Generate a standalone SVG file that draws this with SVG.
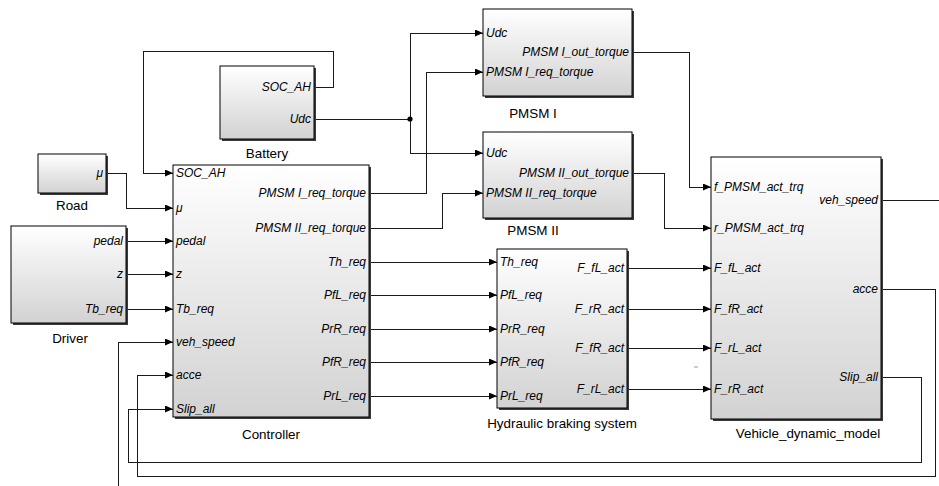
<svg xmlns="http://www.w3.org/2000/svg" width="939" height="486" viewBox="0 0 939 486">
<defs>
<linearGradient id="g" x1="0" y1="0" x2="0" y2="1">
<stop offset="0" stop-color="#ffffff"/>
<stop offset="1" stop-color="#d2d2d2"/>
</linearGradient>
<marker id="a" markerUnits="userSpaceOnUse" markerWidth="9" markerHeight="8" refX="8" refY="3.5" orient="auto">
<path d="M0,0 L8,3.5 L0,7 z" fill="#000"/>
</marker>
<style>
.sh{fill:#3a3a3a}
.bx{fill:url(#g);stroke:#000;stroke-width:1}
.pi{font-family:"Liberation Sans",Arial,sans-serif;font-style:italic;font-size:12px;fill:#000}
.po{font-family:"Liberation Sans",Arial,sans-serif;font-style:italic;font-size:12px;fill:#000;text-anchor:end}
.lb{font-family:"Liberation Sans",Arial,sans-serif;font-size:13.4px;fill:#000;text-anchor:middle}
.c{fill:none;stroke:#1a1a1a;stroke-width:1;shape-rendering:crispEdges}
.ca{fill:none;stroke:#1a1a1a;stroke-width:1;shape-rendering:crispEdges;marker-end:url(#a)}
</style>
</defs>
<rect width="939" height="486" fill="#fff"/>

<g id="connectors">
<path class="ca" d="M314,87 H333 V51 H143 V173 H173"/>
<path class="ca" d="M314,119 H410 V33 H483"/>
<path class="ca" d="M410,119 V153 H483"/>
<circle cx="410" cy="119" r="2.6" fill="#000"/>
<path class="ca" d="M106,173 H126 V208 H173"/>
<path class="ca" d="M126,241 H173"/>
<path class="ca" d="M126,274 H173"/>
<path class="ca" d="M126,309 H173"/>
<path class="ca" d="M369,193 H426 V72 H483"/>
<path class="ca" d="M369,228 H442 V193 H483"/>
<path class="ca" d="M369,262 H497"/>
<path class="ca" d="M369,295 H497"/>
<path class="ca" d="M369,329 H497"/>
<path class="ca" d="M369,362 H497"/>
<path class="ca" d="M369,396 H497"/>
<path class="ca" d="M632,52 H689 V187 H711"/>
<path class="ca" d="M632,173 H664 V228 H711"/>
<path class="ca" d="M627,268 H711"/>
<path class="ca" d="M627,309 H711"/>
<path class="ca" d="M627,348 H711"/>
<path class="ca" d="M627,389 H711"/>
<path class="c" d="M881,200 H939"/>
<path class="ca" d="M118,486 V342 H173"/>
<path class="ca" d="M881,289 H935 V476 H137 V375 H173"/>
<path class="ca" d="M881,377 H921 V462 H128 V409 H173"/>
<path d="M694,367 H698" stroke="#999" stroke-width="1"/>
</g>

<g id="battery">
<rect class="sh" x="222" y="68" width="94" height="73"/>
<rect class="bx" x="220" y="66" width="94" height="73"/>
<text class="po" x="311" y="91">SOC_AH</text>
<text class="po" x="311" y="123">Udc</text>
<text class="lb" x="267" y="158">Battery</text>
</g>

<g id="road">
<rect class="sh" x="40" y="156" width="68" height="39"/>
<rect class="bx" x="38" y="154" width="68" height="39"/>
<text class="po" x="103" y="177">μ</text>
<text class="lb" x="72" y="210">Road</text>
</g>

<g id="driver">
<rect class="sh" x="13" y="228" width="115" height="97"/>
<rect class="bx" x="11" y="226" width="115" height="97"/>
<text class="po" x="123" y="245">pedal</text>
<text class="po" x="123" y="278">z</text>
<text class="po" x="123" y="313">Tb_req</text>
<text class="lb" x="70" y="343">Driver</text>
</g>

<g id="controller">
<rect class="sh" x="175" y="167" width="196" height="252"/>
<rect class="bx" x="173" y="165" width="196" height="252"/>
<text class="pi" x="176" y="177">SOC_AH</text>
<text class="pi" x="176" y="212">μ</text>
<text class="pi" x="176" y="245">pedal</text>
<text class="pi" x="176" y="278">z</text>
<text class="pi" x="176" y="313">Tb_req</text>
<text class="pi" x="176" y="346">veh_speed</text>
<text class="pi" x="176" y="379">acce</text>
<text class="pi" x="176" y="413">Slip_all</text>
<text class="po" x="366" y="197">PMSM I_req_torque</text>
<text class="po" x="366" y="232">PMSM II_req_torque</text>
<text class="po" x="366" y="266">Th_req</text>
<text class="po" x="366" y="299">PfL_req</text>
<text class="po" x="366" y="333">PrR_req</text>
<text class="po" x="366" y="366">PfR_req</text>
<text class="po" x="366" y="400">PrL_req</text>
<text class="lb" x="271" y="439">Controller</text>
</g>

<g id="pmsm1">
<rect class="sh" x="485" y="11" width="149" height="87"/>
<rect class="bx" x="483" y="9" width="149" height="87"/>
<text class="pi" x="486" y="37">Udc</text>
<text class="po" x="629" y="56">PMSM I_out_torque</text>
<text class="pi" x="486" y="76">PMSM I_req_torque</text>
<text class="lb" x="533" y="118">PMSM I</text>
</g>

<g id="pmsm2">
<rect class="sh" x="485" y="134" width="149" height="86"/>
<rect class="bx" x="483" y="132" width="149" height="86"/>
<text class="pi" x="486" y="157">Udc</text>
<text class="po" x="629" y="177">PMSM II_out_torque</text>
<text class="pi" x="486" y="197">PMSM II_req_torque</text>
<text class="lb" x="533" y="235">PMSM II</text>
</g>

<g id="hydraulic">
<rect class="sh" x="499" y="251" width="130" height="159"/>
<rect class="bx" x="497" y="249" width="130" height="159"/>
<text class="pi" x="500" y="266">Th_req</text>
<text class="pi" x="500" y="299">PfL_req</text>
<text class="pi" x="500" y="333">PrR_req</text>
<text class="pi" x="500" y="366">PfR_req</text>
<text class="pi" x="500" y="400">PrL_req</text>
<text class="po" x="624" y="272">F_fL_act</text>
<text class="po" x="624" y="313">F_rR_act</text>
<text class="po" x="624" y="352">F_fR_act</text>
<text class="po" x="624" y="393">F_rL_act</text>
<text class="lb" x="562" y="428">Hydraulic braking system</text>
</g>

<g id="vehicle">
<rect class="sh" x="713" y="159" width="170" height="262"/>
<rect class="bx" x="711" y="157" width="170" height="262"/>
<text class="pi" x="714" y="191">f_PMSM_act_trq</text>
<text class="pi" x="714" y="232">r_PMSM_act_trq</text>
<text class="pi" x="714" y="272">F_fL_act</text>
<text class="pi" x="714" y="313">F_fR_act</text>
<text class="pi" x="714" y="352">F_rL_act</text>
<text class="pi" x="714" y="393">F_rR_act</text>
<text class="po" x="878" y="204">veh_speed</text>
<text class="po" x="878" y="293">acce</text>
<text class="po" x="878" y="381">Slip_all</text>
<text class="lb" x="808" y="438">Vehicle_dynamic_model</text>
</g>
</svg>
